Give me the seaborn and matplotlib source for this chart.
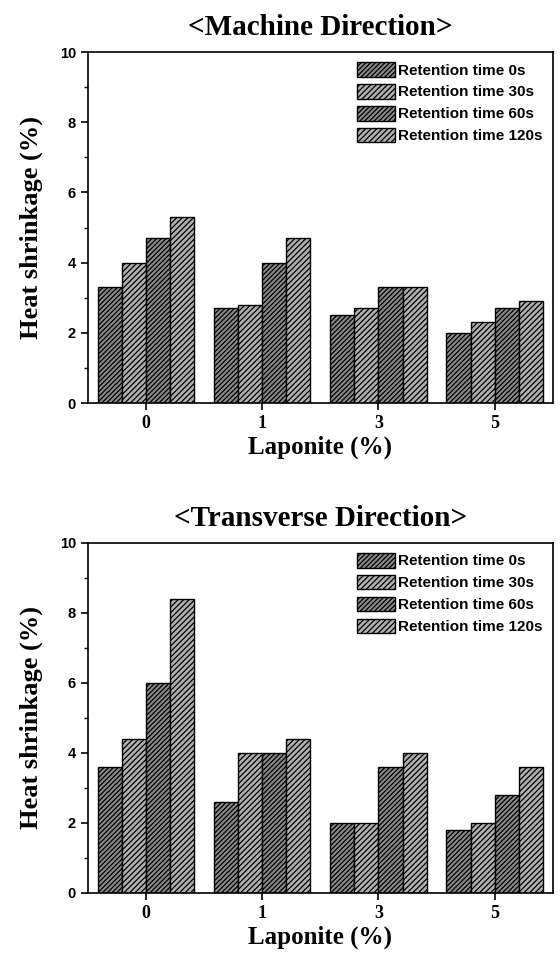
import matplotlib
matplotlib.use("Agg")
import matplotlib.pyplot as plt
import seaborn as sns
import pandas as pd
from matplotlib.patches import Patch

laponite = ["0", "1", "3", "5"]
retention = ["Retention time 0s", "Retention time 30s", "Retention time 60s", "Retention time 120s"]
md_0s = [3.3, 2.7, 2.5, 2.0]
md_30s = [4.0, 2.8, 2.7, 2.3]
md_60s = [4.7, 4.0, 3.3, 2.7]
md_120s = [5.3, 4.7, 3.3, 2.9]
td_0s = [3.6, 2.6, 2.0, 1.8]
td_30s = [4.4, 4.0, 2.0, 2.0]
td_60s = [6.0, 4.0, 3.6, 2.8]
td_120s = [8.4, 4.4, 4.0, 3.6]
titles = ["<Machine Direction>", "<Transverse Direction>"]

sns.set_theme(style="ticks")
plt.rcParams["hatch.linewidth"] = 0.9
plt.rcParams["hatch.color"] = "black"
plt.rcParams["text.color"] = "black"
plt.rcParams["axes.labelcolor"] = "black"
plt.rcParams["xtick.color"] = "black"
plt.rcParams["ytick.color"] = "black"

face = ["#8a8a8a", "#b0b0b0", "#8a8a8a", "#b0b0b0"]
hatches = ["///////", "//////", "///////", "//////"]

def make_df(series):
    rows = []
    for r, vals in zip(retention, series):
        for c, v in zip(laponite, vals):
            rows.append({"Laponite": c, "Retention": r, "Value": v})
    return pd.DataFrame(rows)

fig = plt.figure(figsize=(5.6, 9.55), dpi=100)
ax1 = fig.add_axes([0.157, 0.578, 0.83, 0.3675])
ax2 = fig.add_axes([0.157, 0.065, 0.83, 0.3665])

serif = "Liberation Serif"
sans = "Liberation Sans"

for ax, series, title in [
    (ax1, [md_0s, md_30s, md_60s, md_120s], titles[0]),
    (ax2, [td_0s, td_30s, td_60s, td_120s], titles[1]),
]:
    df = make_df(series)
    sns.barplot(data=df, x="Laponite", y="Value", hue="Retention",
                order=laponite, hue_order=retention, palette=face,
                width=0.83, saturation=1, edgecolor="black", linewidth=1.0,
                ax=ax, legend=False)
    for i, cont in enumerate(ax.containers):
        for bar in cont:
            bar.set_hatch(hatches[i])
            bar.set_facecolor(face[i])
            bar.set_edgecolor("black")
    ax.set_xlim(-0.5, 3.5)
    ax.set_ylim(0, 10)
    ax.set_yticks([0, 2, 4, 6, 8, 10])
    ax.set_yticks([1, 3, 5, 7, 9], minor=True)
    ax.tick_params(axis="both", which="major", direction="out", length=5, width=1.2, color="black")
    ax.tick_params(axis="y", which="minor", direction="out", length=3, width=1.0, color="black")
    for lab in ax.get_yticklabels():
        lab.set_fontfamily(sans)
        lab.set_fontweight("bold")
        lab.set_fontsize(10.5)
    for lab in ax.get_xticklabels():
        lab.set_fontfamily(serif)
        lab.set_fontweight("bold")
        lab.set_fontsize(13)
    for sp in ax.spines.values():
        sp.set_visible(True)
        sp.set_color("black")
        sp.set_linewidth(1.2)
    ax.set_xlabel("Laponite (%)", fontfamily=serif, fontweight="bold", fontsize=18, labelpad=3)
    ax.set_ylabel("Heat shrinkage (%)", fontfamily=serif, fontweight="bold", fontsize=19, labelpad=12)
    ax.set_title(title, fontfamily=serif, fontweight="bold", fontsize=21, pad=12)
    handles = [Patch(facecolor=face[i], edgecolor="black", hatch=hatches[i], linewidth=1.0)
               for i in range(4)]
    ax.legend(handles, retention, loc="upper right", bbox_to_anchor=(1.0, 1.0),
              frameon=False, prop={"family": sans, "weight": "bold", "size": 11},
              handlelength=2.5, handleheight=1.1, handletextpad=0.2, labelspacing=0.42,
              borderaxespad=0.25)

fig.savefig("out.png", dpi=100)
